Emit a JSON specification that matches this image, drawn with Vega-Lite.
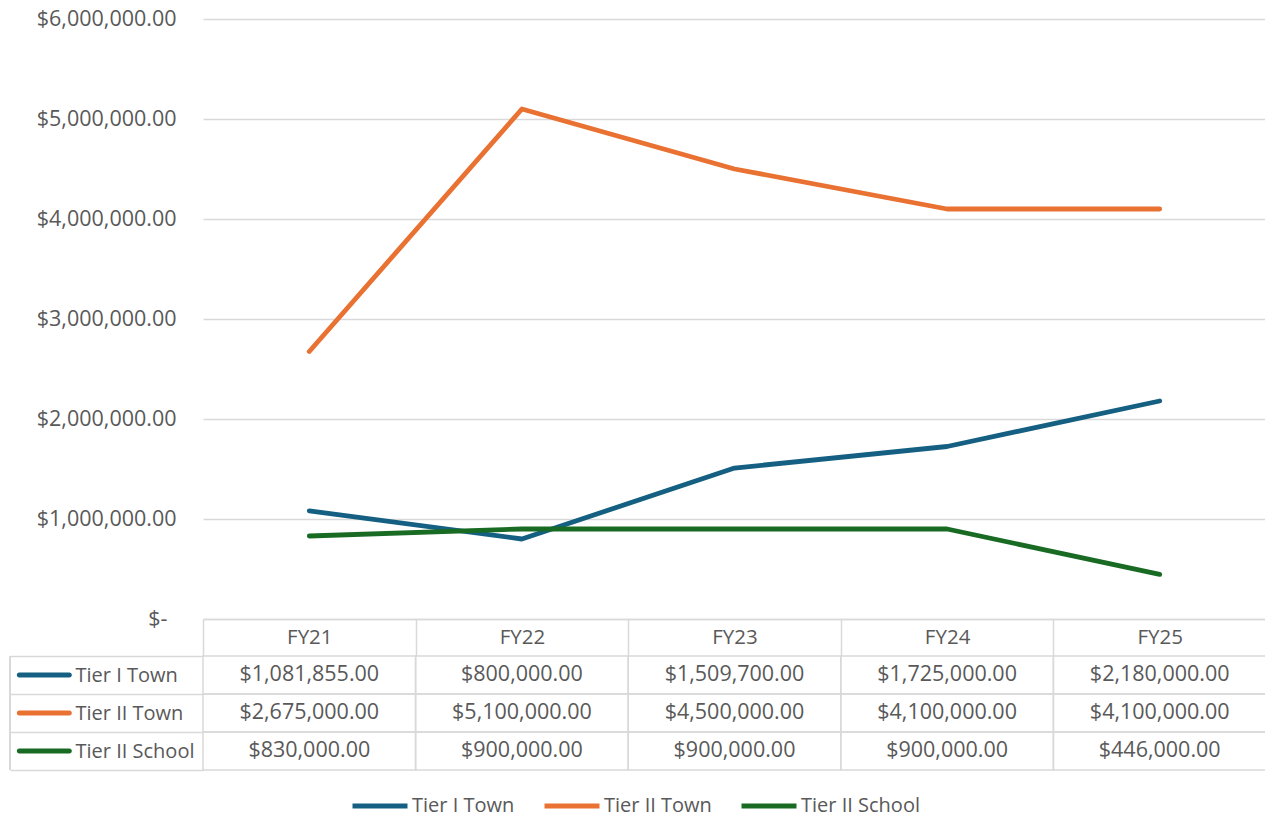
{
  "$schema": "https://vega.github.io/schema/vega-lite/v6.json",
  "background": "white",
  "padding": {"left": 9, "top": 8, "right": 0, "bottom": 0},
  "config": {
    "font": "Open Sans",
    "view": {"stroke": null},
    "concat": {"spacing": 0},
    "axis": {"labelColor": "#595959", "labelFontSize": 21.5, "labelFont": "Open Sans"},
    "legend": {"labelColor": "#595959", "labelFontSize": 20, "labelFont": "Open Sans"}
  },
  "data": {"values": [
    {"fy": "FY21", "series": "Tier I Town", "amount": 1081855},
    {"fy": "FY22", "series": "Tier I Town", "amount": 800000},
    {"fy": "FY23", "series": "Tier I Town", "amount": 1509700},
    {"fy": "FY24", "series": "Tier I Town", "amount": 1725000},
    {"fy": "FY25", "series": "Tier I Town", "amount": 2180000},
    {"fy": "FY21", "series": "Tier II Town", "amount": 2675000},
    {"fy": "FY22", "series": "Tier II Town", "amount": 5100000},
    {"fy": "FY23", "series": "Tier II Town", "amount": 4500000},
    {"fy": "FY24", "series": "Tier II Town", "amount": 4100000},
    {"fy": "FY25", "series": "Tier II Town", "amount": 4100000},
    {"fy": "FY21", "series": "Tier II School", "amount": 830000},
    {"fy": "FY22", "series": "Tier II School", "amount": 900000},
    {"fy": "FY23", "series": "Tier II School", "amount": 900000},
    {"fy": "FY24", "series": "Tier II School", "amount": 900000},
    {"fy": "FY25", "series": "Tier II School", "amount": 446000}
  ]},
  "bounds": "flush",
  "spacing": 37,
  "resolve": {"scale": {"x": "independent", "y": "independent"}},
  "vconcat": [
    {
      "width": 1063,
      "height": 600,
      "mark": {"type": "line", "strokeWidth": 4.8, "strokeCap": "round", "strokeJoin": "round"},
      "encoding": {
        "x": {
          "field": "fy", "type": "nominal",
          "scale": {"type": "band", "paddingInner": 0, "paddingOuter": 0},
          "axis": {
            "title": null, "grid": false, "labelAngle": 0,
            "tickBand": "extent", "tickSize": 37, "tickColor": "#d9d9d9", "tickWidth": 1.5,
            "domainColor": "#d9d9d9", "domainWidth": 1.5,
            "labelPadding": -19, "labelBaseline": "middle", "labelFontSize": 20.5
          }
        },
        "y": {
          "field": "amount", "type": "quantitative",
          "scale": {"domain": [0, 6000000], "nice": false},
          "axis": {
            "title": null, "domain": false, "ticks": false,
            "values": [0, 1000000, 2000000, 3000000, 4000000, 5000000, 6000000],
            "labelPadding": {"condition": {"test": "datum.value === 0", "value": 36}, "value": 27},
            "gridColor": "#d9d9d9", "gridWidth": 1.3,
            "labelExpr": "datum.value === 0 ? '$-' : format(datum.value, '$,.2f')"
          }
        },
        "color": {
          "field": "series", "type": "nominal",
          "scale": {"domain": ["Tier I Town", "Tier II Town", "Tier II School"], "range": ["#156082", "#E97132", "#196B24"]},
          "legend": {
            "title": null, "orient": "none", "direction": "horizontal",
            "legendX": 147, "legendY": 757,
            "symbolType": "stroke", "symbolSize": 3025, "symbolStrokeWidth": 4.8,
            "labelOffset": 2, "columnPadding": 19
          }
        }
      }
    },
    {
      "width": 1063,
      "height": 114,
      "encoding": {
        "x": {"field": "fy", "type": "nominal", "scale": {"type": "band", "paddingInner": 0, "paddingOuter": 0}, "axis": null},
        "y": {
          "field": "series", "type": "nominal",
          "scale": {"domain": ["Tier I Town", "Tier II Town", "Tier II School"], "paddingInner": 0, "paddingOuter": 0},
          "axis": {
            "title": null, "domain": false,
            "tickBand": "extent", "tickSize": 193, "tickColor": "#d9d9d9", "tickWidth": 1.5,
            "labelAlign": "left", "labelPadding": -65, "labelBaseline": "middle", "labelFontSize": 20
          }
        }
      },
      "layer": [
        {
          "mark": {"type": "rect", "fill": "white", "fillOpacity": 0, "stroke": "#d9d9d9", "strokeWidth": 1.5}
        },
        {
          "mark": {"type": "text", "fontSize": 21.5, "color": "#595959", "font": "Open Sans"},
          "encoding": {"text": {"field": "amount", "type": "quantitative", "format": "$,.2f"}}
        },
        {
          "transform": [{"filter": "datum.fy === 'FY21'"}],
          "mark": {"type": "rule", "color": "#d9d9d9", "strokeWidth": 1.5, "xOffset": -299.3},
          "encoding": {"y": null}
        },
        {
          "transform": [{"filter": "datum.fy === 'FY21'"}],
          "mark": {"type": "tick", "orient": "horizontal", "size": 55, "thickness": 4.8, "cornerRadius": 2.4, "xOffset": -265, "opacity": 1},
          "encoding": {
            "color": {"field": "series", "type": "nominal"}
          }
        }
      ]
    }
  ]
}
